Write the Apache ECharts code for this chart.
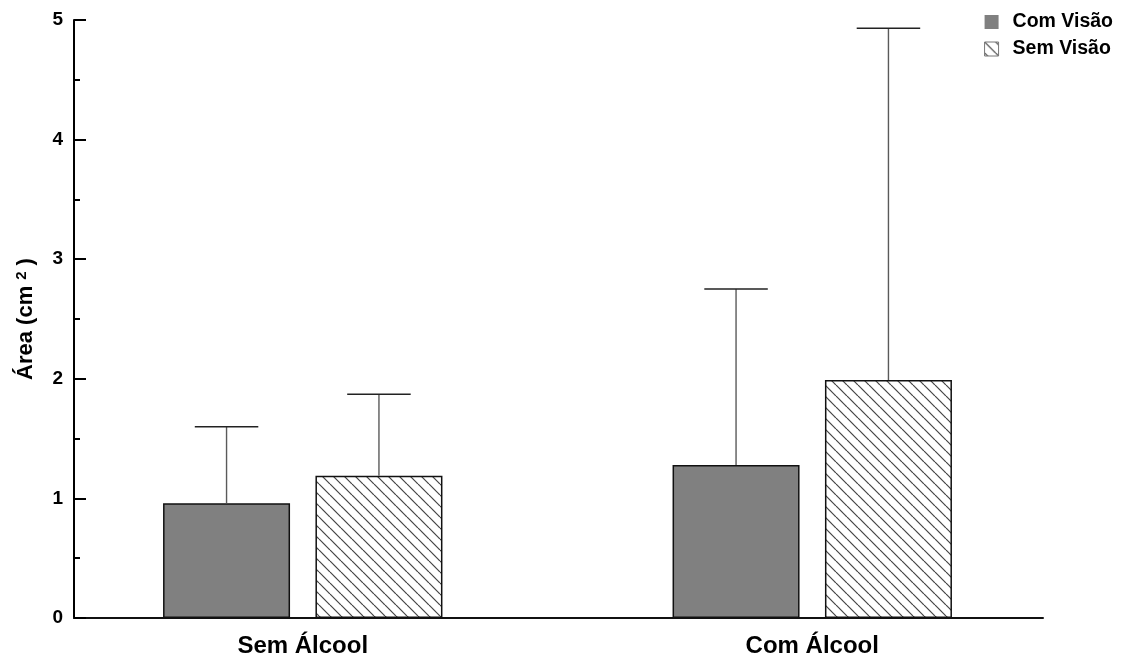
<!DOCTYPE html>
<html>
<head>
<meta charset="utf-8">
<script src="https://cdn.jsdelivr.net/npm/echarts@6/dist/echarts.min.js"></script>
<style>
  html, body { margin: 0; padding: 0; background: #fff; }
  #chart { width: 1126px; height: 662px; }
</style>
</head>
<body>
<div id="chart"></div>
<script>
// Mean sway area (cm²) with standard deviations
const categories = ['Sem Álcool', 'Com Álcool'];
const seriesNames = ['Com Visão', 'Sem Visão'];
const comVisao = [0.96, 1.28];
const semVisao = [1.19, 1.99];
const comVisaoSD = [0.64, 1.47];
const semVisaoSD = [0.68, 2.94];
const yTicks = [0, 1, 2, 3, 4, 5];

const FONT = '"Liberation Sans", Arial, sans-serif';
const BAR_W = 127;
const BAR_GAP = 0.2;

// diagonal hatch tile for the "Sem Visão" bars
function hatchPattern() {
  const c = document.createElement('canvas');
  const s = 11;
  c.width = s; c.height = s;
  const g = c.getContext('2d');
  g.fillStyle = '#fff';
  g.fillRect(0, 0, s, s);
  g.strokeStyle = '#444';
  g.lineWidth = 1.2;
  for (const k of [-s, 0, s]) {
    g.beginPath();
    g.moveTo(k, 0);
    g.lineTo(k + s, s);
    g.stroke();
  }
  return { image: c, repeat: 'repeat' };
}

// upward-only error bars placed over each bar of a group
function errorSeries(means, sds, side) {
  return {
    type: 'custom',
    xAxisIndex: 0,
    yAxisIndex: 0,
    silent: true,
    z: 5,
    data: means.map((m, i) => [i, m, m + sds[i]]),
    renderItem(params, api) {
      const off = side * (BAR_W * (1 + BAR_GAP)) / 2;
      const base = api.coord([api.value(0), api.value(1)]);
      const top = api.coord([api.value(0), api.value(2)]);
      const x = base[0] + off;
      const half = BAR_W / 4;
      return {
        type: 'group',
        children: [
          { type: 'line', shape: { x1: x, y1: base[1], x2: x, y2: top[1] },
            style: { stroke: '#5a5a5a', lineWidth: 1.4 } },
          { type: 'line', shape: { x1: x - half, y1: top[1], x2: x + half, y2: top[1] },
            style: { stroke: '#222', lineWidth: 1.5 } }
        ]
      };
    }
  };
}

const chart = echarts.init(document.getElementById('chart'), null, { renderer: 'canvas' });
chart.setOption({
  backgroundColor: '#fff',
  animation: false,
  textStyle: { fontFamily: FONT },
  legend: {
    orient: 'vertical',
    right: 8,
    top: 7,
    itemWidth: 14,
    itemHeight: 14,
    itemGap: 7,
    icon: 'rect',
    data: [
      { name: seriesNames[0], itemStyle: { borderWidth: 0 } },
      { name: seriesNames[1], itemStyle: { borderColor: '#777', borderWidth: 1 } }
    ],
    textStyle: { fontSize: 19.5, fontWeight: 'bold', color: '#000', fontFamily: FONT, padding: [0, 0, 0, 9] }
  },
  grid: [
    { left: 48, width: 1019, top: 20, bottom: 44 },
    { left: 74, right: 83, top: 20, bottom: 44 }
  ],
  xAxis: [
    {
      type: 'category', gridIndex: 0, data: categories,
      axisLine: { show: false }, axisTick: { show: false },
      axisLabel: { fontSize: 24, fontWeight: 'bold', color: '#000', fontFamily: FONT, margin: 16 }
    },
    {
      type: 'value', gridIndex: 1, min: 0, max: 1,
      axisLine: { show: true, onZero: false, lineStyle: { color: '#111', width: 2 } },
      axisTick: { show: false }, axisLabel: { show: false }, splitLine: { show: false }
    }
  ],
  yAxis: [
    {
      type: 'value', gridIndex: 0, min: yTicks[0], max: yTicks[yTicks.length - 1],
      show: false
    },
    {
      type: 'value', gridIndex: 1,
      min: yTicks[0], max: yTicks[yTicks.length - 1], interval: 1,
      name: 'Área (cm{sup|2})',
      nameLocation: 'middle',
      nameGap: 37,
      nameTextStyle: {
        fontSize: 22, fontWeight: 'bold', color: '#000', fontFamily: FONT,
        rich: { sup: { fontSize: 15, fontWeight: 'bold', color: '#000', fontFamily: FONT, verticalAlign: 'top', padding: [0, 6, 8, 6] } }
      },
      axisLine: { show: true, onZero: false, lineStyle: { color: '#000', width: 2 } },
      axisTick: { show: true, inside: true, length: 12, lineStyle: { color: '#000', width: 2 } },
      minorTick: { show: true, splitNumber: 2, length: 6, lineStyle: { color: '#000', width: 2 } },
      axisLabel: { fontSize: 19, fontWeight: 'bold', color: '#000', fontFamily: FONT, margin: 11 },
      splitLine: { show: false }
    }
  ],
  series: [
    {
      name: seriesNames[0], type: 'bar', xAxisIndex: 0, yAxisIndex: 0,
      data: comVisao, barWidth: BAR_W, barGap: (BAR_GAP * 100) + '%',
      itemStyle: { color: '#808080', borderColor: '#111', borderWidth: 1.5 }
    },
    {
      name: seriesNames[1], type: 'bar', xAxisIndex: 0, yAxisIndex: 0,
      data: semVisao, barWidth: BAR_W,
      itemStyle: { color: hatchPattern(), borderColor: '#111', borderWidth: 1.5 }
    },
    errorSeries(comVisao, comVisaoSD, -1),
    errorSeries(semVisao, semVisaoSD, 1)
  ]
});
</script>
</body>
</html>
